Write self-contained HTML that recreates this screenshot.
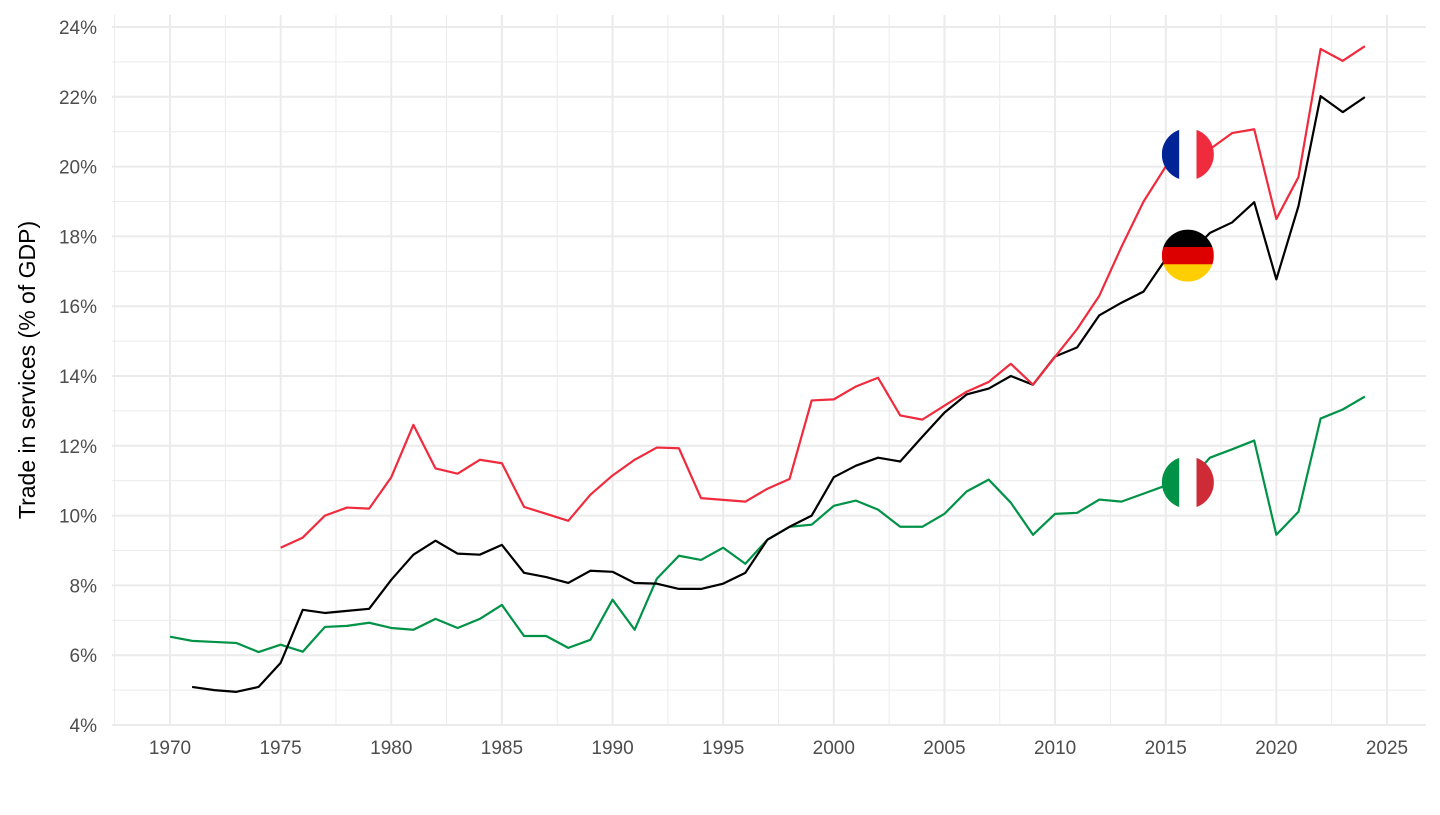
<!DOCTYPE html>
<html><head><meta charset="utf-8"><style>
body{margin:0;background:#fff;}
svg text{font-family:"Liberation Sans",sans-serif;}
</style></head><body>
<svg id="chart" width="1440" height="810" xmlns="http://www.w3.org/2000/svg">
<defs>
<clipPath id="cfr"><circle cx="0" cy="0" r="26"/></clipPath>
</defs>
<g id="grid"></g>
<g id="axes"></g>
<g id="lines"></g>
<g id="flags"></g>
<text transform="translate(35,370) rotate(-90)" text-anchor="middle" font-size="23" fill="#000">Trade in services (% of GDP)</text>
</svg>
<script>
const yTicks=[4,6,8,10,12,14,16,18,20,22,24];
const xTicks=[1970,1975,1980,1985,1990,1995,2000,2005,2010,2015,2020,2025];
const franceYears=[1975,1976,1977,1978,1979,1980,1981,1982,1983,1984,1985,1986,1987,1988,1989,1990,1991,1992,1993,1994,1995,1996,1997,1998,1999,2000,2001,2002,2003,2004,2005,2006,2007,2008,2009,2010,2011,2012,2013,2014,2015,2016,2017,2018,2019,2020,2021,2022,2023,2024];
const franceValues=[9.08,9.37,10.0,10.23,10.2,11.1,12.6,11.35,11.2,11.6,11.5,10.25,10.05,9.85,10.6,11.15,11.6,11.95,11.93,10.5,10.45,10.4,10.77,11.05,13.3,13.33,13.7,13.95,12.87,12.75,13.15,13.55,13.83,14.35,13.75,14.55,15.35,16.3,17.7,19.0,20.0,20.35,20.5,20.96,21.07,18.5,19.7,23.37,23.03,23.45];
const germanyYears=[1971,1972,1973,1974,1975,1976,1977,1978,1979,1980,1981,1982,1983,1984,1985,1986,1987,1988,1989,1990,1991,1992,1993,1994,1995,1996,1997,1998,1999,2000,2001,2002,2003,2004,2005,2006,2007,2008,2009,2010,2011,2012,2013,2014,2015,2016,2017,2018,2019,2020,2021,2022,2023,2024];
const germanyValues=[5.09,5.0,4.95,5.09,5.78,7.3,7.21,7.27,7.33,8.16,8.88,9.28,8.91,8.88,9.16,8.36,8.24,8.07,8.42,8.39,8.07,8.05,7.9,7.9,8.05,8.36,9.31,9.68,10.0,11.1,11.43,11.66,11.55,12.26,12.95,13.47,13.64,14.0,13.75,14.56,14.82,15.74,16.1,16.42,17.35,17.45,18.1,18.4,18.98,16.77,18.87,22.02,21.56,21.99];
const italyYears=[1970,1971,1972,1973,1974,1975,1976,1977,1978,1979,1980,1981,1982,1983,1984,1985,1986,1987,1988,1989,1990,1991,1992,1993,1994,1995,1996,1997,1998,1999,2000,2001,2002,2003,2004,2005,2006,2007,2008,2009,2010,2011,2012,2013,2014,2015,2016,2017,2018,2019,2020,2021,2022,2023,2024];
const italyValues=[6.53,6.41,6.38,6.35,6.09,6.3,6.1,6.81,6.84,6.93,6.78,6.73,7.04,6.78,7.04,7.44,6.55,6.55,6.21,6.44,7.59,6.73,8.19,8.85,8.73,9.08,8.62,9.31,9.68,9.74,10.28,10.43,10.17,9.68,9.68,10.05,10.69,11.03,10.37,9.45,10.05,10.08,10.46,10.4,10.63,10.86,10.95,11.66,11.9,12.15,9.45,10.11,12.78,13.04,13.41];
const flagYear=2016;

const NS='http://www.w3.org/2000/svg';
const X=y=>170+(y-1970)*22.127;
const Y=v=>27+(24-v)*34.9;
function mk(tag,attrs,parent){const e=document.createElementNS(NS,tag);for(const k in attrs)e.setAttribute(k,attrs[k]);parent.appendChild(e);return e;}
const grid=document.getElementById('grid'),axes=document.getElementById('axes'),lines=document.getElementById('lines'),flags=document.getElementById('flags');
const L=112,R=1426,T=15,B=726;
for(let i=0;i<yTicks.length;i++){
  const v=yTicks[i];
  const g=mk('line',{x1:L,x2:R,y1:Y(v),y2:Y(v),stroke:'#ebebeb','stroke-width':2},grid);
  
  
  if(i<yTicks.length-1){const m=mk('line',{x1:L,x2:R,y1:Y(v+1),y2:Y(v+1),stroke:'#ebebeb','stroke-width':1},grid);
  
  }
  const t=mk('text',{x:97,y:Y(v)+7,'text-anchor':'end','font-size':19,fill:'#4d4d4d'},axes);
  t.textContent=v+'%';
  
  
}
for(let i=0;i<xTicks.length;i++){
  const yr=xTicks[i];
  const g=mk('line',{x1:X(yr),x2:X(yr),y1:T,y2:B,stroke:'#ebebeb','stroke-width':2},grid);
  
  
  const m=mk('line',{x1:X(yr-2.5),x2:X(yr-2.5),y1:T,y2:B,stroke:'#ebebeb','stroke-width':1},grid);
  
  
  const t=mk('text',{x:X(yr),y:754,'text-anchor':'middle','font-size':19,fill:'#4d4d4d'},axes);
  t.textContent=yr;
  
  
}
function series(years,vals,color,name){
  const p=mk('polyline',{points:years.map((y,i)=>X(y)+','+Y(vals[i])).join(' '),fill:'none',stroke:color,'stroke-width':2.2,'stroke-linejoin':'round'},lines);
  
  
}
series(italyYears,italyValues,'#009246','italy-line');
series(germanyYears,germanyValues,'#000000','germany-line');
series(franceYears,franceValues,'#ef2b3d','france-line');
function flag(years,vals,cols,vertical,name){
  const cx=X(flagYear),cy=Y(vals[years.indexOf(flagYear)]);
  const g=mk('g',{transform:`translate(${cx},${cy})`,'clip-path':'url(#cfr)'},flags);
  
  
  cols.forEach((c,i)=>{
    if(vertical) mk('rect',{x:-26+i*52/3,y:-26,width:52/3+0.5,height:52,fill:c},g);
    else mk('rect',{x:-26,y:-26+i*52/3,width:52,height:52/3+0.5,fill:c},g);
  });
}
flag(franceYears,franceValues,['#002395','#ffffff','#ef2b3d'],true,'france-flag');
flag(germanyYears,germanyValues,['#000000','#dd0000','#ffce00'],false,'germany-flag');
flag(italyYears,italyValues,['#009246','#ffffff','#ce2b37'],true,'italy-flag');
</script>
</body></html>
